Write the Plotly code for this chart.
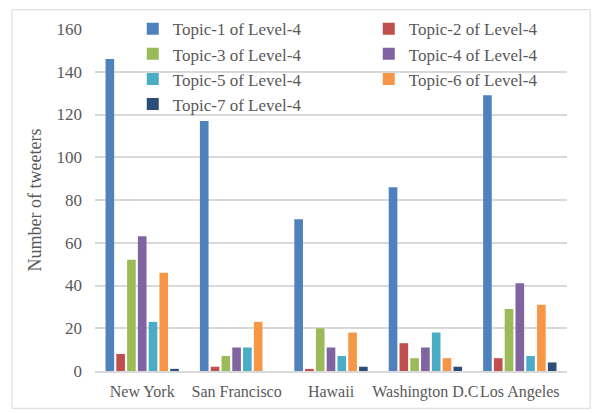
import plotly.graph_objects as go

cities = ["New York", "San Francisco", "Hawaii", "Washington D.C", "Los Angeles"]
topic_names = [f"Topic-{i} of Level-4" for i in range(1, 8)]
topic1 = [146, 117, 71, 86, 129]
topic2 = [8, 2, 1, 13, 6]
topic3 = [52, 7, 20, 6, 29]
topic4 = [63, 11, 11, 11, 41]
topic5 = [23, 11, 7, 18, 7]
topic6 = [46, 23, 18, 6, 31]
topic7 = [1, 0, 2, 2, 4]
series = [topic1, topic2, topic3, topic4, topic5, topic6, topic7]
colors = ["#4F81BD", "#C0504D", "#9BBB59", "#8064A2", "#4BACC6", "#F79646", "#2C4D75"]
y_ticks = list(range(0, 161, 20))

FONT = "Liberation Serif, Times New Roman, serif"
GREY = "#595959"

fig = go.Figure()
for i, (name, vals, col) in enumerate(zip(topic_names, series, colors)):
    fig.add_trace(go.Bar(x=cities, y=vals, name=name,
                         legend="legend" if i % 2 == 0 else "legend2",
                         marker=dict(color=col, line=dict(width=0))))

leg_common = dict(
    orientation="v", yanchor="top", xanchor="left",
    font=dict(family=FONT, size=17, color=GREY),
    bgcolor="rgba(0,0,0,0)", tracegroupgap=0, itemwidth=30,
)
fig.update_layout(
    width=594, height=413,
    margin=dict(l=95, r=27, t=29, b=42, autoexpand=False),
    paper_bgcolor="white", plot_bgcolor="white",
    barmode="group", bargap=0.2, bargroupgap=0.2,
    font=dict(family=FONT, color=GREY, size=16),
    legend=dict(x=0.08, y=1.052, **leg_common),
    legend2=dict(x=0.58, y=1.052, **leg_common),
    showlegend=True,
    shapes=[dict(type="rect", xref="paper", yref="paper",
                 x0=-0.176, x1=1.049, y0=-0.109, y1=1.0565,
                 line=dict(color="#D9D9D9", width=1), fillcolor="rgba(0,0,0,0)", layer="below")],
)
fig.update_yaxes(
    range=[0, 160], tickvals=y_ticks, showgrid=True, gridcolor="#D9D9D9", gridwidth=1.5,
    zeroline=False, showline=False, ticks="", ticklabelstandoff=12, automargin=False,
    tickfont=dict(family=FONT, size=17, color=GREY),
    title=dict(text="Number of tweeters", font=dict(family=FONT, size=18, color=GREY), standoff=10),
)
fig.update_xaxes(
    showline=True, linecolor="#D9D9D9", linewidth=1.5, ticks="", tickangle=0, automargin=False,
    tickfont=dict(family=FONT, size=16, color=GREY), ticklabelstandoff=5,
)
fig.write_html("out.html")
